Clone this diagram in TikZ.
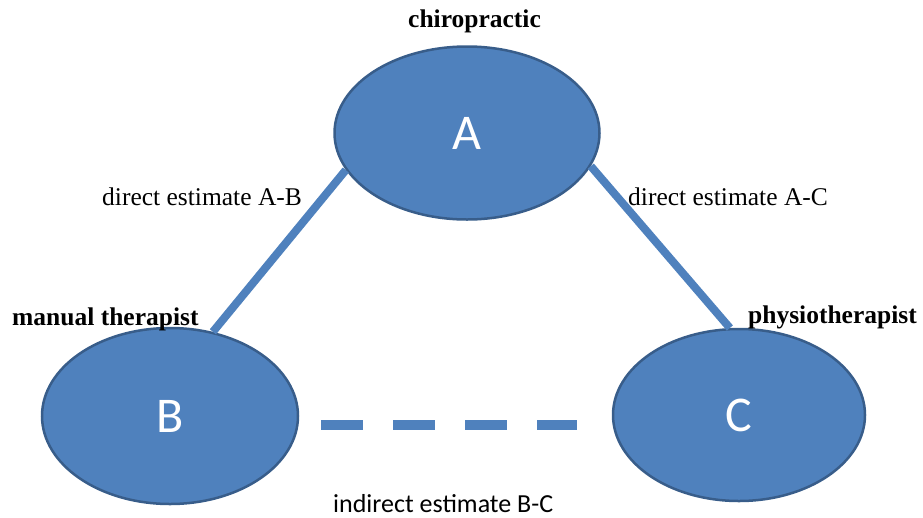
\documentclass[tikz,border=0pt]{standalone}
\usepackage{fontspec}
\setmainfont{Liberation Serif}
\newfontfamily\sansc{Carlito}
\usetikzlibrary{shapes.geometric}
\definecolor{ofill}{HTML}{4F81BD}
\definecolor{oborder}{HTML}{385D8A}
\tikzset{
  oval/.style={ellipse, fill=ofill, draw=oborder, line width=2.5pt, inner sep=0pt,
    text=white, font=\sansc\fontsize{50}{50}\selectfont},
  link/.style={draw=ofill, line width=8pt},
  dashlink/.style={draw=ofill, line width=9.5pt, dash pattern=on 42pt off 30pt},
  boldlbl/.style={anchor=base west, inner sep=0pt, font=\bfseries\fontsize{25.5}{28}\selectfont},
  lbl/.style={anchor=base west, inner sep=0pt, font=\fontsize{25.5}{28}\selectfont},
  sanslbl/.style={anchor=base west, inner sep=0pt, font=\sansc\fontsize{26}{28}\selectfont}
}
\begin{document}
\begin{tikzpicture}[x=1pt,y=-1pt]
\useasboundingbox (0,0) rectangle (923,517);
\node[oval, minimum width=265pt, minimum height=173pt] (A) at (467,133) {A};
\node[oval, minimum width=256pt, minimum height=176pt] (B) at (170,416) {B};
\node[oval, minimum width=252pt, minimum height=172pt] (C) at (739,415) {C};
\draw[link] (A.197) -- (B.63);
\draw[link] (A.345) -- (C.96);
\draw[dashlink] ([xshift=22pt,yshift=-9pt]B.east) -- ([xshift=-35pt,yshift=-10pt]C.west);
\node[boldlbl] (lA) at (408,27) {chiropractic};
\node[boldlbl] (lB) at (12,325) {manual therapist};
\node[boldlbl] (lC) at (748,323) {physiotherapist};
\node[lbl] (eAB) at (102,205) {direct estimate A-B};
\node[lbl] (eAC) at (628,205) {direct estimate A-C};
\node[sanslbl] (eBC) at (333,512) {indirect estimate B-C};
\end{tikzpicture}
\end{document}
